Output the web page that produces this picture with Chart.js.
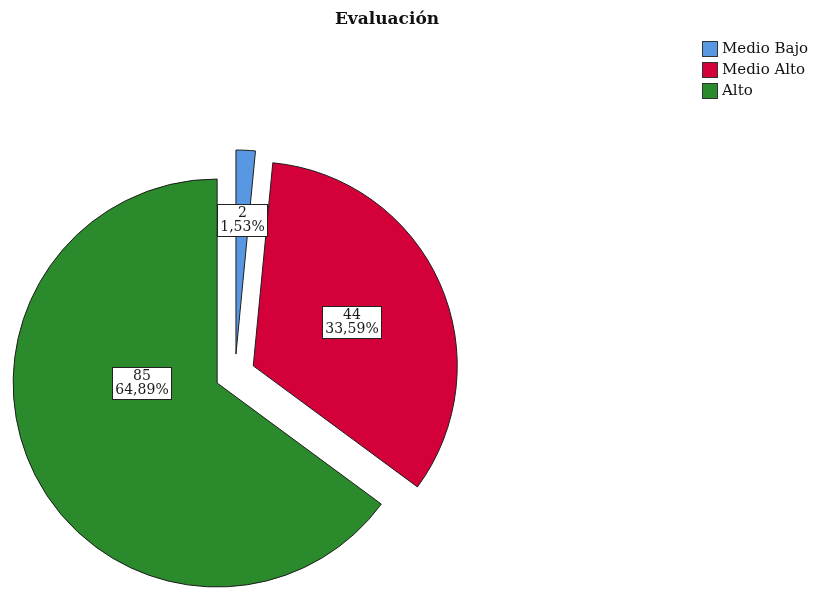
<!DOCTYPE html>
<html>
<head>
<meta charset="utf-8">
<script src="https://cdn.jsdelivr.net/npm/chart.js@4/dist/chart.umd.min.js"></script>
<style>
  html, body { margin: 0; padding: 0; background: #ffffff; }
  #wrap { width: 817px; height: 590px; position: relative; }
</style>
</head>
<body>
<div id="wrap"><canvas id="chart" width="817" height="590"></canvas></div>
<script>
// Evaluación: frequency of each level
const chartTitle = 'Evaluación';
const categories = ['Medio Bajo', 'Medio Alto', 'Alto'];
const counts = [2, 44, 85];
const sliceColors = ['#5898e2', '#d4003a', '#2b8a2c'];

const total = counts.reduce((a, b) => a + b, 0);
const percentLabels = counts.map(v => (v / total * 100).toFixed(2).replace('.', ',') + '%');

const SERIF = '"DejaVu Serif", "Liberation Serif", serif';
const EXPLODE = 20;          // distance each slice is pulled out from the centre
const RADIUS = 204;
// where each slice's label sits: fraction across the slice's angle, fraction of radius
const labelAngleFrac = [0.5, 0.5, 0.615];
const labelRadiusFrac = [0.66, 0.53, 0.37];

// Pull every slice outward along its bisector
const explodePlugin = {
  id: 'explode',
  beforeDatasetsDraw(chart) {
    const area = chart.chartArea;
    const cx = (area.left + area.right) / 2;
    const cy = (area.top + area.bottom) / 2;
    chart.getDatasetMeta(0).data.forEach(arc => {
      const mid = (arc.startAngle + arc.endAngle) / 2;
      arc.x = cx + Math.cos(mid) * EXPLODE;
      arc.y = cy + Math.sin(mid) * EXPLODE;
    });
  }
};

// Boxed count / percentage label inside each slice
const sliceLabelPlugin = {
  id: 'sliceLabels',
  afterDatasetsDraw(chart) {
    const ctx = chart.ctx;
    const meta = chart.getDatasetMeta(0);
    ctx.save();
    ctx.font = '14px ' + SERIF;
    ctx.textAlign = 'center';
    ctx.textBaseline = 'middle';
    meta.data.forEach((arc, i) => {
      const ang = arc.startAngle + labelAngleFrac[i] * (arc.endAngle - arc.startAngle);
      const r = arc.outerRadius * labelRadiusFrac[i];
      const x = arc.x + Math.cos(ang) * r;
      const y = arc.y + Math.sin(ang) * r;
      const lines = [String(counts[i]), percentLabels[i]];
      const w = Math.max(...lines.map(t => ctx.measureText(t).width)) + 6;
      const h = 32;
      const bx = Math.round(x - w / 2) + 0.5;
      const by = Math.round(y - h / 2) + 0.5;
      ctx.fillStyle = '#ffffff';
      ctx.fillRect(bx, by, Math.round(w), h);
      ctx.strokeStyle = '#222222';
      ctx.lineWidth = 1;
      ctx.strokeRect(bx, by, Math.round(w), h);
      ctx.fillStyle = '#1a1a1a';
      ctx.fillText(lines[0], bx + Math.round(w) / 2, by + h / 2 - 7);
      ctx.fillText(lines[1], bx + Math.round(w) / 2, by + h / 2 + 7);
    });
    ctx.restore();
  }
};

// Title and legend in the upper area
const headerPlugin = {
  id: 'header',
  afterDraw(chart) {
    const ctx = chart.ctx;
    ctx.save();
    ctx.fillStyle = '#111111';
    ctx.font = 'bold 17px ' + SERIF;
    ctx.textAlign = 'center';
    ctx.textBaseline = 'alphabetic';
    ctx.fillText(chartTitle, 387, 24);

    ctx.font = '15px ' + SERIF;
    ctx.textAlign = 'left';
    ctx.textBaseline = 'middle';
    categories.forEach((name, i) => {
      const top = 41 + i * 21;
      ctx.fillStyle = sliceColors[i];
      ctx.fillRect(702.5, top + 0.5, 15, 15);
      ctx.strokeStyle = '#333333';
      ctx.lineWidth = 1;
      ctx.strokeRect(702.5, top + 0.5, 15, 15);
      ctx.fillStyle = '#111111';
      ctx.fillText(name, 722, top + 8);
    });
    ctx.restore();
  }
};

new Chart(document.getElementById('chart'), {
  type: 'pie',
  data: {
    labels: categories,
    datasets: [{
      data: counts,
      backgroundColor: sliceColors,
      borderColor: '#1e1e1e',
      borderWidth: 1
    }]
  },
  options: {
    responsive: false,
    animation: false,
    radius: RADIUS,
    layout: { padding: { left: 0, right: 347, top: 158, bottom: 0 } },
    plugins: {
      legend: { display: false },
      title: { display: false },
      tooltip: { enabled: false }
    }
  },
  plugins: [explodePlugin, sliceLabelPlugin, headerPlugin]
});
</script>
</body>
</html>
